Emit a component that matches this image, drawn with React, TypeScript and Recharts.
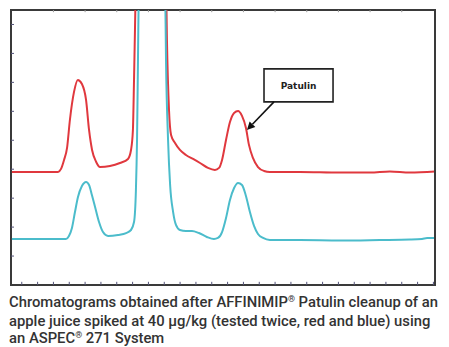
import React from 'react';
import { LineChart, Line, XAxis, YAxis, ReferenceArea, ReferenceLine } from 'recharts';

// retention position (one bottom tick = 1) and signal (one side tick = 1)
const redTime = [
  -0.68, 2.29, 2.48, 2.67, 2.86, 3.04, 3.3, 3.54, 3.8, 4.06, 4.25, 4.44, 4.7, 4.94, 5.57, 6.2, 6.71,
  6.9, 7.02, 7.09, 7.15, 7.21, 8.22, 9.11, 9.17, 9.3, 9.43, 9.68, 9.99, 10.37, 10.82, 11.26, 11.76,
  12.2, 12.46, 12.65, 12.9, 13.15, 13.41, 13.66, 13.91, 14.16, 14.35, 14.6, 14.92, 15.3, 15.67,
  17.57, 20.1, 21.99, 23.25, 24.52, 26.1,
];
const redSignal = [
  7.81, 7.81, 8.02, 8.64, 9.47, 11.4, 13.34, 14.17, 13.89, 12.79, 10.71, 9.33, 8.5, 8.15, 8.22, 8.43, 8.71,
  9.33, 10.71, 14.17, 17.62, 21.08, 40, 21.08, 16.93, 12.09, 10.37, 9.81, 9.33, 8.98, 8.71, 8.43, 8.09,
  7.95, 8.09, 8.64, 10.02, 11.26, 11.89, 12.02, 11.68, 10.85, 9.68, 8.78, 8.15, 7.88, 7.81,
  7.81, 7.77, 7.77, 7.84, 7.77, 7.84,
];

const blueTime = [
  -0.68, 2.79, 2.98, 3.17, 3.36, 3.55, 3.8, 4.06, 4.25, 4.43, 4.63, 4.88, 5.13, 5.45, 6.08, 6.59, 6.9,
  7.09, 7.21, 7.28, 7.34, 7.4, 8.22, 9.05, 9.11, 9.24, 9.37, 9.56, 9.74, 9.99, 10.37, 10.75, 11.19,
  11.69, 12.14, 12.39, 12.65, 12.9, 13.15, 13.41, 13.66, 13.91, 14.16, 14.41, 14.67, 14.92, 15.24,
  15.67, 17.57, 20.1, 22.62, 24.52, 25.28, 25.6, 26.1,
];
const blueSignal = [
  3.18, 3.18, 3.39, 3.94, 5.04, 6.08, 6.84, 7.12, 6.91, 6.22, 5.39, 4.35, 3.66, 3.39, 3.46, 3.59, 3.8,
  4.35, 6.57, 10.02, 15.55, 21.08, 40, 21.08, 15.55, 10.02, 6.91, 5.04, 4.15, 3.8, 3.73, 3.73, 3.59,
  3.32, 3.18, 3.25, 3.66, 4.63, 5.87, 6.7, 7.05, 6.91, 6.15, 5.04, 4.08, 3.52, 3.25,
  3.11, 3.11, 3.08, 3.11, 3.14, 3.18, 3.25, 3.25,
];

const bottomTicks = Array.from({ length: 27 }, (_, i) => i);
const topTicks = [2, 4, 6, 8, 10, 12, 14, 16, 18, 20, 22, 24];
const sideTicks = Array.from({ length: 18 }, (_, i) => i + 1);

// one table on the union of both time grids; gaps are bridged with connectNulls
const allTimes = Array.from(new Set([...redTime, ...blueTime])).sort((a, b) => a - b);
const data = allTimes.map((t) => {
  const ri = redTime.indexOf(t);
  const bi = blueTime.indexOf(t);
  return {
    t,
    red: ri >= 0 ? redSignal[ri] : null,
    blue: bi >= 0 ? blueSignal[bi] : null,
  };
});

const AXIS = '#3a3a3a';
const TICK = '#55557a';

const tickIn = (dx: number, dy: number) => (p: any) => (
  <line x1={p.x} y1={p.y} x2={p.x + dx} y2={p.y + dy} stroke={TICK} strokeWidth={1} />
);

const Arrow = (p: any) => {
  const { x1, y1, x2, y2 } = p;
  const a = Math.atan2(y2 - y1, x2 - x1);
  const L = 8;
  const w = 4;
  const bx = x2 - L * Math.cos(a);
  const by = y2 - L * Math.sin(a);
  const pts = [
    [x2, y2],
    [bx + w * Math.sin(a), by - w * Math.cos(a)],
    [bx - w * Math.sin(a), by + w * Math.cos(a)],
  ]
    .map((q) => q.join(','))
    .join(' ');
  return (
    <g>
      <line x1={x1} y1={y1} x2={bx} y2={by} stroke="#111" strokeWidth={1.6} />
      <polygon points={pts} fill="#111" />
    </g>
  );
};

const sup = { fontSize: '0.6em', position: 'relative' as const, top: '-0.6em' };

export default function App() {
  return (
    <div style={{ position: 'absolute', left: 0, top: 0, width: 449, height: 347, background: '#fff' }}>
      <LineChart width={449} height={290} data={data} margin={{ top: 10, right: 0, left: 0, bottom: 5 }}>
        <XAxis type="number" dataKey="t" domain={[-0.68, 26.1]} allowDataOverflow hide />
        <YAxis
          type="number"
          domain={[0, 19]}
          ticks={sideTicks}
          allowDataOverflow
          width={11}
          tickSize={0}
          tickMargin={0}
          tickLine={false}
          tick={tickIn(3, 0)}
          axisLine={{ stroke: AXIS, strokeWidth: 1.8 }}
        />
        <YAxis
          yAxisId="right"
          orientation="right"
          type="number"
          domain={[0, 19]}
          ticks={sideTicks}
          width={14}
          tickSize={0}
          tickMargin={0}
          tickLine={false}
          tick={tickIn(-3, 0)}
          axisLine={{ stroke: AXIS, strokeWidth: 2 }}
        />
        <ReferenceArea
          x1={-0.68}
          x2={26.1}
          y1={0}
          y2={19}
          fill="none"
          stroke={AXIS}
          strokeWidth={2}
          ifOverflow="visible"
        />
        {bottomTicks.map((t) => (
          <ReferenceLine
            key={`b${t}`}
            segment={[
              { x: t, y: 0 },
              { x: t, y: 0.22 },
            ]}
            stroke={TICK}
            ifOverflow="visible"
          />
        ))}
        {topTicks.map((t) => (
          <ReferenceLine
            key={`t${t}`}
            segment={[
              { x: t, y: 19 },
              { x: t, y: 18.85 },
            ]}
            stroke="#999"
            ifOverflow="visible"
          />
        ))}
        <Line
          dataKey="red"
          type="monotone"
          connectNulls
          stroke="#e0383e"
          strokeWidth={2}
          dot={false}
          isAnimationActive={false}
        />
        <Line
          dataKey="blue"
          type="monotone"
          connectNulls
          stroke="#4bbccb"
          strokeWidth={2}
          dot={false}
          isAnimationActive={false}
        />
        <ReferenceLine
          segment={[
            { x: 15.93, y: 12.65 },
            { x: 14.22, y: 10.71 },
          ]}
          shape={Arrow}
        />
        <ReferenceArea
          x1={15.3}
          x2={19.66}
          y1={12.65}
          y2={14.93}
          fill="#fff"
          fillOpacity={1}
          stroke="#222"
          strokeWidth={1.6}
          label={{
            value: 'Patulin',
            position: 'center',
            fill: '#222',
            fontSize: 9,
            fontWeight: 'bold',
            fontFamily: 'DejaVu Sans',
          }}
        />
      </LineChart>
      <div
        style={{
          position: 'absolute',
          left: 9,
          top: 294,
          width: 440,
          fontFamily: 'Roboto',
          fontSize: 14.8,
          fontWeight: 500,
          lineHeight: '17px',
          color: '#333',
          whiteSpace: 'nowrap',
        }}
      >
        Chromatograms obtained after AFFINIMIP<span style={sup}>®</span> Patulin cleanup of an
        <br />
        apple juice spiked at 40 µg/kg (tested twice, red and blue) using
        <br />
        an ASPEC<span style={sup}>®</span> 271 System
      </div>
    </div>
  );
}
